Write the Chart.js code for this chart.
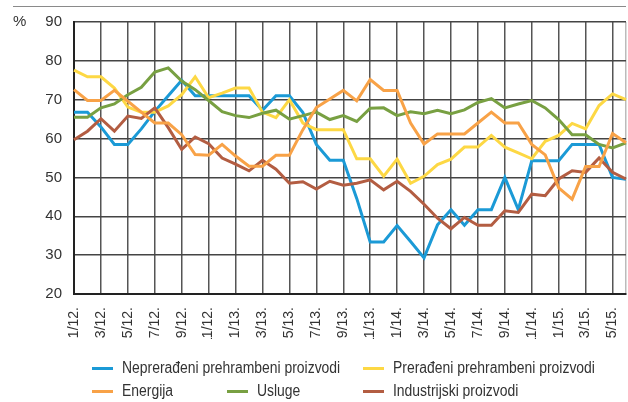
<!DOCTYPE html>
<html>
<head>
<meta charset="utf-8">
<script src="https://cdn.jsdelivr.net/npm/chart.js@4"></script>
<style>
  html, body { margin:0; padding:0; background:#fff; }
  #wrap { position:relative; width:628px; height:402px; overflow:hidden; background:#fff; }
  #c { position:absolute; left:0; top:0; }
  .topline { position:absolute; left:13px; top:6px; width:613px; height:0; border-top:1.5px solid #8a8a8a; }
  .pct { position:absolute; left:13px; top:12px; font:15px "Liberation Sans", Arial, sans-serif; color:#333; }
  .lg { position:absolute; font:16px "Liberation Sans", Arial, sans-serif; color:#333; white-space:nowrap; line-height:16px; transform:scaleX(0.87); transform-origin:0 0; }
  .sw { position:absolute; width:21px; height:3px; }
</style>
</head>
<body>
<div id="wrap">
  <canvas id="c" width="628" height="402"></canvas>
  <div class="topline"></div>
  <div class="pct">%</div>
  <div id="legend"></div>
</div>
<script>
const months = [];
for (let y = 12; y <= 15; y++) for (let m = 1; m <= 12; m++) months.push(m + '/' + y + '.');
const categories = months.slice(0, 42);

const neprerađeni = [66.8,66.8,63,58.5,58.5,62.5,67,71,75,71, 71,71,71,71,67.3,71,71,66.7,58.5,54.4, 54.4,44.6,33.4,33.4,37.6,33.5,29.3,37.8,41.7,37.7, 41.7,41.7,50,41.7,54.3,54.3,54.3,58.5,58.5,58.5, 50,49.5];
const prerađeni = [77.6,75.9,75.9,73,68.1,66.8,66.8,68.4,71.3,75.9, 70.5,71.7,73,73,66.8,65.4,70,64,62.3,62.3, 62.3,54.8,54.8,50.3,54.7,48.5,50.3,53.3,54.7,57.8, 57.8,60.8,57.8,56.3,54.8,59.3,60.8,63.9,62.5,68.5, 71.5,70];
const energija = [72.6,69.8,69.8,72.4,69.6,66.8,64,64,61,55.9, 55.7,58.5,55.5,52.9,52.9,55.7,55.7,62.3,68,70.2, 72.4,69.7,75.2,72.4,72.4,64,58.6,61.2,61.2,61.2, 64,66.8,64,64,58.5,55.8,47.3,44.4,52.8,52.8, 61.3,58.9];
const usluge = [65.5,65.5,67.9,68.9,71.3,73.2,77.1,78.2,74.8,72.6, 69.8,66.9,65.9,65.4,66.5,67.3,65,65.9,66.8,64.9, 65.9,64.4,67.8,67.9,65.9,66.9,66.4,67.3,66.4,67.4, 69.3,70.3,67.9,68.9,69.8,67.9,64.9,61,61,58.5, 57.6,58.9];
const industrijski = [59.7,61.9,65.1,61.9,65.8,65.2,67.9,62.8,57.2,60.4, 58.7,55,53.4,51.7,54.4,52.1,48.5,48.9,47,49, 48,48.5,49.4,46.8,49,46.4,43.1,39.5,36.8,39.7, 37.7,37.7,41.4,41,45.7,45.3,49.6,51.7,51.3,55, 51.3,49.6];

const seriesNames = ['Neprerađeni prehrambeni proizvodi','Prerađeni prehrambeni proizvodi','Energija','Usluge','Industrijski proizvodi'];
const yTicks = [20,30,40,50,60,70,80,90];

const colors = {
  blue:'#1b9ad6', yellow:'#fdd844', orange:'#f8a247', green:'#78a042', brown:'#b35d42'
};

function ds(label, data, color) {
  return { label, data, borderColor: color, backgroundColor: color, borderWidth: 3,
    pointRadius: 0, tension: 0, fill: false, borderJoinStyle: 'miter' };
}

const fontsReady = Promise.all([
  document.fonts.load('15px "Liberation Sans"')
]).catch(()=>{});

fontsReady.then(() => {
  new Chart(document.getElementById('c'), {
    type: 'line',
    data: {
      labels: categories,
      datasets: [
        ds(seriesNames[2], energija, colors.orange),
        ds(seriesNames[4], industrijski, colors.brown),
        ds(seriesNames[3], usluge, colors.green),
        ds(seriesNames[1], prerađeni, colors.yellow),
        ds(seriesNames[0], neprerađeni, colors.blue)
      ]
    },
    options: {
      responsive: false,
      animation: false,
      events: [],
      layout: { padding: { left: 0, right: 2, top: 22, bottom: 63 } },
      plugins: { legend: { display: false }, tooltip: { enabled: false } },
      scales: {
        x: {
          type: 'category',
          offset: false,
          grid: {
            drawTicks: false,
            lineWidth: 1.5,
            color: (ctx) => ctx.index % 2 === 0 ? '#555555' : (ctx.index === categories.length - 1 ? '#bbbbbb' : 'rgba(0,0,0,0)')
          },
          border: { display: true, color: '#222', width: 2 },
          ticks: {
            autoSkip: false,
            minRotation: 90, maxRotation: 90,
            padding: 13,
            color: '#333',
            font: { family: '"Liberation Sans", Arial, sans-serif', size: 14 },
            callback: function(v, i) { return i % 2 === 0 ? categories[i] : ''; }
          },
          afterFit: (s) => { s.height = 45; s.paddingLeft = 0; s.paddingRight = 0; }
        },
        y: {
          min: yTicks[0], max: yTicks[yTicks.length - 1],
          afterBuildTicks: (s) => { s.ticks = yTicks.map(v => ({ value: v })); },
          grid: { drawTicks: false, lineWidth: 1.5, color: '#444444' },
          border: { display: true, color: '#222', width: 2 },
          ticks: {
            padding: 12,
            color: '#333',
            font: { family: '"Liberation Sans", Arial, sans-serif', size: 15 }
          },
          afterFit: (s) => { s.width = 74; s.paddingTop = 0; s.paddingBottom = 0; }
        }
      }
    }
  });

  const legendItems = [
    { name: seriesNames[0], color: colors.blue,   x: 92,  row: 0 },
    { name: seriesNames[1], color: colors.yellow, x: 363, row: 0 },
    { name: seriesNames[2], color: colors.orange, x: 92,  row: 1 },
    { name: seriesNames[3], color: colors.green,  x: 227, row: 1 },
    { name: seriesNames[4], color: colors.brown,  x: 363, row: 1 }
  ];
  const lg = document.getElementById('legend');
  legendItems.forEach(it => {
    const cy = it.row === 0 ? 368 : 391;
    const sw = document.createElement('div');
    sw.className = 'sw';
    sw.style.left = it.x + 'px';
    sw.style.top = (cy - 1.5) + 'px';
    sw.style.background = it.color;
    lg.appendChild(sw);
    const t = document.createElement('div');
    t.className = 'lg';
    t.style.left = (it.x + 30) + 'px';
    t.style.top = (cy - 8) + 'px';
    t.textContent = it.name;
    lg.appendChild(t);
  });
});
</script>
</body>
</html>
